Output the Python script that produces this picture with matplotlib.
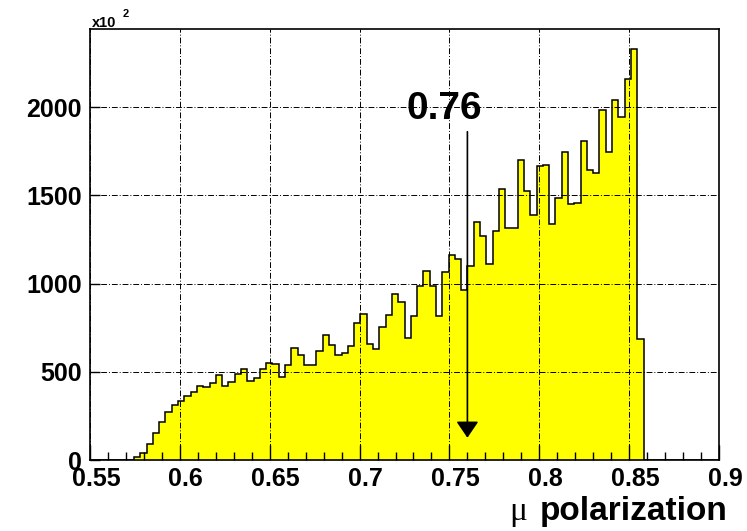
import numpy as np
import matplotlib
matplotlib.use("Agg")
import matplotlib.pyplot as plt
from matplotlib.ticker import MultipleLocator, FixedLocator
from matplotlib.transforms import ScaledTranslation

# ---- data -------------------------------------------------------------
x_min, x_max, n_bins = 0.55, 0.90, 100
counts = [
    0, 0, 0, 0, 0, 0, 0, 17, 40, 90,
    153, 215, 270, 311, 332, 362, 383, 419, 415, 434,
    481, 417, 443, 487, 515, 449, 462, 515, 549, 542,
    470, 536, 634, 595, 536, 538, 617, 710, 651, 595,
    606, 648, 776, 825, 659, 631, 753, 821, 938, 895,
    693, 816, 987, 1069, 985, 817, 1064, 1162, 1139, 964,
    1099, 1346, 1271, 1108, 1295, 1535, 1314, 1316, 1697, 1526,
    1387, 1665, 1671, 1337, 1484, 1743, 1448, 1456, 1807, 1643,
    1626, 1983, 1747, 2041, 1945, 2156, 2326, 688, 0, 0,
    0, 0, 0, 0, 0, 0, 0, 0, 0, 0,
]
x_ticks = [0.55, 0.60, 0.65, 0.70, 0.75, 0.80, 0.85, 0.90]
x_tick_labels = ["0.55", "0.6", "0.65", "0.7", "0.75", "0.8", "0.85", "0.9"]
y_ticks = [0, 500, 1000, 1500, 2000]
y_tick_labels = ["0", "500", "1000", "1500", "2000"]
marker_value = 0.76
marker_label = "0.76"
x_title = "polarization"
scale_label = "x10"
scale_exp = "2"

# ---- figure -----------------------------------------------------------
W, H = 747, 531
fig = plt.figure(figsize=(W / 100, H / 100), dpi=100)
plt.rcParams['font.family'] = ['Liberation Sans', 'DejaVu Sans']
ax = fig.add_axes([90 / W, 1 - 460 / H, (719 - 90) / W, (460 - 29) / H])

edges = np.linspace(x_min, x_max, n_bins + 1)
ax.stairs(counts, edges, fill=True, color="#ffff00", zorder=1, baseline=0)
ax.stairs(counts, edges, fill=False, color="black", linewidth=1.1, zorder=1.5, baseline=0)

ax.set_xlim(x_min, x_max)
ax.set_ylim(0, 2442)

ax.set_axisbelow(False)
ax.xaxis.set_major_locator(FixedLocator(x_ticks))
ax.set_xticklabels(x_tick_labels)
ax.xaxis.set_minor_locator(MultipleLocator(0.01))
ax.yaxis.set_major_locator(FixedLocator(y_ticks))
ax.set_yticklabels(y_tick_labels)

ax.grid(True, which="major", color="black", linewidth=0.7,
        linestyle=(0, (6, 2, 1, 2)))

ax.tick_params(axis="x", which="major", direction="in", length=11, width=1,
               labelsize=18, pad=5, top=False)
ax.tick_params(axis="x", which="minor", direction="in", length=6, width=1, top=False)
ax.tick_params(axis="y", which="major", direction="in", length=7, width=1,
               labelsize=18, pad=6, right=False)
for lab in ax.get_xticklabels() + ax.get_yticklabels():
    lab.set_fontweight("bold")
for lab in ax.get_xticklabels():
    lab.set_transform(lab.get_transform() + ScaledTranslation(6 / 100, 0, fig.dpi_scale_trans))

for sp in ax.spines.values():
    sp.set_linewidth(1.2)
    sp.set_color("black")

# marker annotation
ax.text(0.747, 1990, marker_label, ha="center", va="center",
        fontsize=28, fontweight="bold", zorder=5)
ax.annotate("", xy=(marker_value, 126), xytext=(marker_value, 1860),
            arrowprops=dict(arrowstyle="-|>,head_length=1.0,head_width=0.68",
                            color="black", lw=1.2, shrinkA=0, shrinkB=0),
            zorder=5)

# axis title
fig.text(728 / W, 1 - 520 / H, x_title, ha="right", va="baseline",
         fontsize=24, fontweight="bold")
fig.text(527 / W, 1 - 520 / H, "\u03bc", ha="right", va="baseline",
         fontsize=24, family=["Liberation Serif", "DejaVu Serif"])

# scale factor
fig.text(92 / W, 1 - 27 / H, scale_label, ha="left", va="baseline",
         fontsize=10.5, fontweight="bold")
fig.text(123 / W, 1 - 17 / H, scale_exp, ha="left", va="baseline",
         fontsize=8, fontweight="bold")

fig.savefig("out.png", dpi=100)
